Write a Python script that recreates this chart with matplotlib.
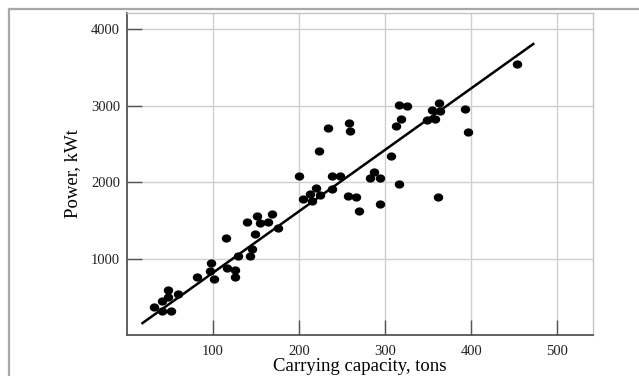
import numpy as np
import matplotlib.pyplot as plt
from matplotlib.lines import Line2D
from matplotlib.path import Path

# ============================================================
# DATA
# ============================================================

capacity = [
    31, 41, 41, 48, 48, 51, 59, 81, 98, 97,
    101, 115, 116, 126, 126, 129, 139, 143, 145, 149,
    151, 154, 164, 169, 175, 200, 205, 213, 215, 220,
    224, 222.5, 233, 238, 238, 248, 256.5, 258, 259, 266,
    270, 282, 287.5, 293.5, 293.5, 306.5, 312, 315.5, 318, 325,
    316, 348, 354, 358, 363, 364, 361, 393, 396, 453,
]

power = [
    366, 447, 313, 595, 497, 315, 530, 756, 936, 838,
    733, 1266, 881, 855, 756, 1030, 1484, 1030, 1130, 1318,
    1558, 1466, 1484, 1584, 1405, 2080, 1778, 1844, 1748, 1928,
    1831, 2409, 2711, 2078, 1908, 2078, 1818, 2768, 2667, 1801,
    1619, 2048, 2128, 2050, 1716, 2340, 2727, 3008, 2829, 2997,
    1975, 2809, 2939, 2829, 3030, 2929, 1807, 2956, 2650, 3549,
]

# regression line
fit_slope = 8.04
fit_intercept = 11.0
fit_range = [18, 472]

x_ticks = [100, 200, 300, 400, 500]
y_ticks = [1000, 2000, 3000, 4000]

# ============================================================
# PLOT
# ============================================================

plt.rcParams['font.family'] = ['Liberation Serif', 'DejaVu Serif']

fig = plt.figure(figsize=(6.39, 3.76), dpi=100)
ax = fig.add_axes([0.1987, 0.109, 0.7288, 0.8572])

# slightly flattened dot marker
theta = np.linspace(0, 2 * np.pi, 40)
dot = Path(np.column_stack([np.cos(theta), 0.85 * np.sin(theta)]), closed=True)

ax.plot(capacity, power, linestyle='none', marker=dot,
        markersize=5.8, color='black', zorder=3)

fx = np.array(fit_range)
ax.plot(fx, fit_slope * fx + fit_intercept, color='black',
        linewidth=1.8, zorder=2)

ax.set_xlim(0, 541)
ax.set_ylim(0, 4215)
ax.set_xticks(x_ticks)
ax.set_yticks(y_ticks)

ax.grid(True, color='#cfcfcf', linewidth=1.0)
ax.set_axisbelow(True)

for side in ['top', 'right']:
    ax.spines[side].set_color('#c4c4c4')
    ax.spines[side].set_linewidth(1.0)
for side in ['left', 'bottom']:
    ax.spines[side].set_color('#555555')
    ax.spines[side].set_linewidth(1.3)

ax.tick_params(direction='in', length=11, width=1.0, color='#555555',
               labelsize=10.5, labelcolor='#222222')
ax.tick_params(axis='y', pad=5)
ax.tick_params(axis='x', pad=7)

ax.set_xlabel("Carrying capacity, tons", fontsize=13.5, labelpad=0)
ax.set_ylabel("Power, kWt", fontsize=13.5, labelpad=7)

# outer frame (left and top only)
fig.add_artist(Line2D([9 / 639, 9 / 639], [0, 1 - 9 / 376],
                      color='#a8a8a8', linewidth=1.6))
fig.add_artist(Line2D([9 / 639, 1], [1 - 9 / 376, 1 - 9 / 376],
                      color='#a8a8a8', linewidth=1.6))

fig.savefig("out.png", dpi=100)
